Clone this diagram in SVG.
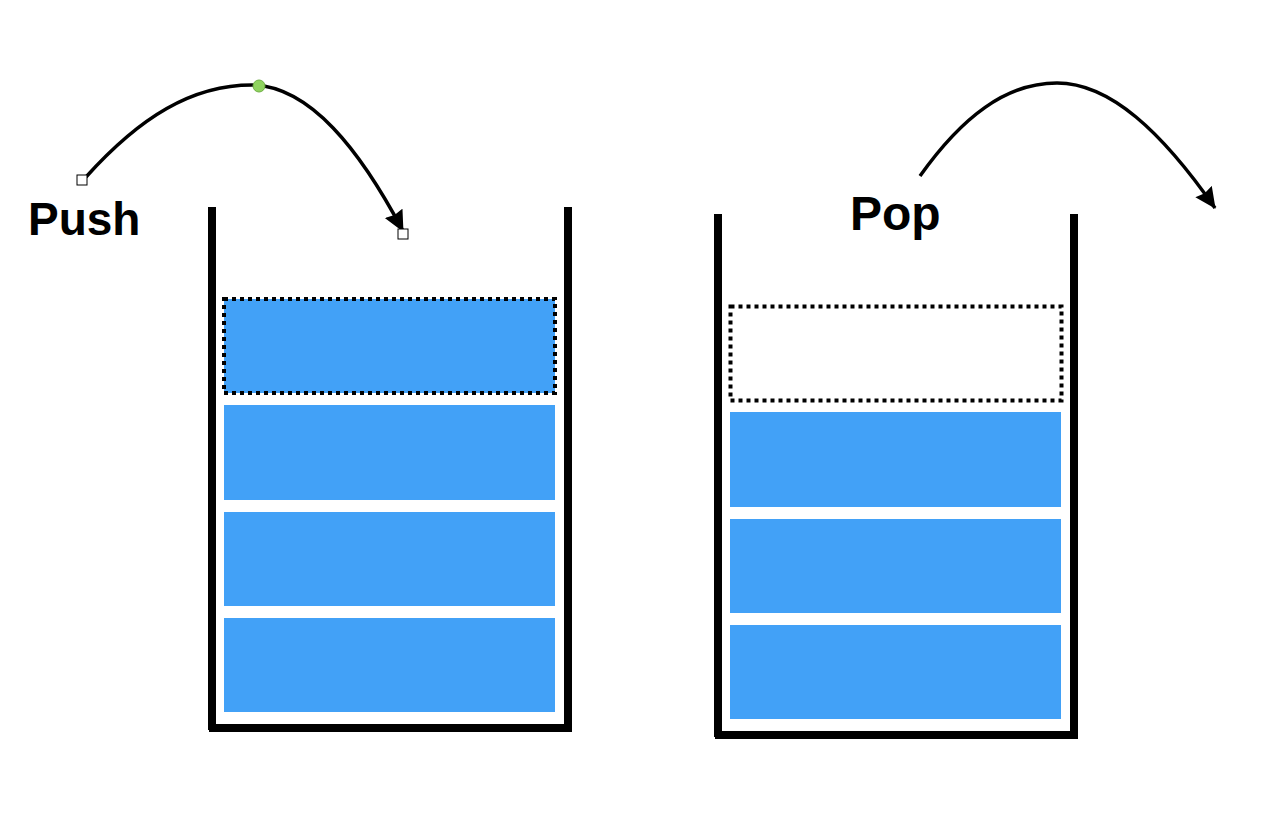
<svg xmlns="http://www.w3.org/2000/svg" width="1288" height="824" viewBox="0 0 1288 824">
<defs>
<style>
.wall{fill:#000}
.box{fill:#42a1f7}
.dash{fill:none;stroke:#000;stroke-width:4;stroke-dasharray:4 4}
.arc{fill:none;stroke:#000;stroke-width:3.5}
.lbl{font-family:"Liberation Sans",Arial,sans-serif;font-weight:bold;font-size:48px;fill:#000}
.handle{fill:#fff;stroke:#000;stroke-width:1}
</style>
<marker id="ah" markerUnits="userSpaceOnUse" markerWidth="26" markerHeight="24" refX="20" refY="10" orient="auto">
<path d="M0,0 L21,10 L0,20 L2,10 Z" fill="#000"/>
</marker>
</defs>
<rect width="1288" height="824" fill="#fff"/>
<g id="push-stack">
<rect class="wall" x="208" y="207" width="8" height="523"/>
<rect class="wall" x="564" y="207" width="8" height="523"/>
<rect class="wall" x="209" y="724" width="363" height="8"/>
<rect class="box" x="224" y="405" width="331" height="95"/>
<rect class="box" x="224" y="512" width="331" height="94"/>
<rect class="box" x="224" y="618" width="331" height="94"/>
</g>
<g id="push-new">
<rect class="box" x="224" y="299" width="331" height="94"/>
<rect class="dash" x="224" y="299" width="331" height="94"/>
</g>
<g id="pop-stack">
<rect class="wall" x="714" y="214" width="8" height="523"/>
<rect class="wall" x="1070" y="214" width="8" height="523"/>
<rect class="wall" x="715" y="731" width="363" height="8"/>
<rect class="box" x="730" y="412" width="331" height="95"/>
<rect class="box" x="730" y="519" width="331" height="94"/>
<rect class="box" x="730" y="625" width="331" height="94"/>
</g>
<g id="pop-removed">
<rect class="dash" x="730.5" y="306.5" width="331" height="94"/>
</g>
<g id="label-push"><text class="lbl" x="28" y="235" style="font-size:46px">Push</text></g>
<g id="label-pop"><text class="lbl" x="850" y="230">Pop</text></g>
<g id="connectors">
<path class="arc" d="M86,177 C140,117 192,85 252,85 C310,86 360,150 403,231" marker-end="url(#ah)"/>
<path class="arc" d="M920,176 C962,117 1006,83 1057,83 C1110,83 1162,132 1215,208" marker-end="url(#ah)"/>
<rect class="handle" x="77" y="175" width="10" height="10"/>
<rect class="handle" x="398" y="229" width="10" height="10"/>
<circle cx="259" cy="86" r="6" fill="#8fd35f" stroke="#6fae45" stroke-width="1"/>
</g>
</svg>
